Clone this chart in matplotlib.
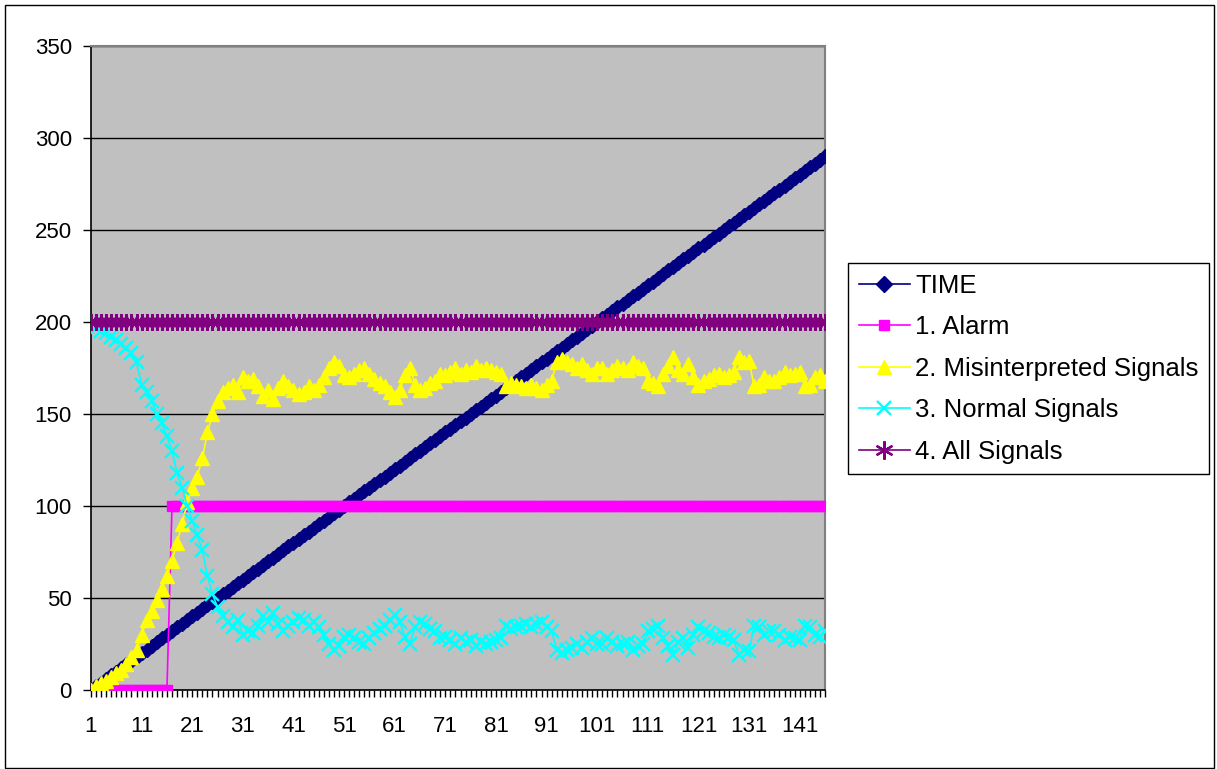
import matplotlib
matplotlib.use("Agg")
import matplotlib.pyplot as plt
from matplotlib.patches import Rectangle
from matplotlib.ticker import FixedLocator, NullFormatter

plt.rcParams['font.family'] = ['Liberation Sans', 'DejaVu Sans']

# ---------------- data ----------------
x_index = list(range(1, 147))
tick_labels = ['1', '11', '21', '31', '41', '51', '61', '71', '81', '91',
               '101', '111', '121', '131', '141']

time_vals = [0, 2, 4, 6, 8, 10, 12, 14, 16, 18, 20, 22, 24, 26, 28, 30, 32, 34, 36, 38,
             40, 42, 44, 46, 48, 50, 52, 54, 56, 58, 60, 62, 64, 66, 68, 70, 72, 74, 76, 78,
             80, 82, 84, 86, 88, 90, 92, 94, 96, 98, 100, 102, 104, 106, 108, 110, 112, 114,
             116, 118, 120, 122, 124, 126, 128, 130, 132, 134, 136, 138, 140, 142, 144, 146,
             148, 150, 152, 154, 156, 158, 160, 162, 164, 166, 168, 170, 172, 174, 176, 178,
             180, 182, 184, 186, 188, 190, 192, 194, 196, 198, 200, 202, 204, 206, 208, 210,
             212, 214, 216, 218, 220, 222, 224, 226, 228, 230, 232, 234, 236, 238, 240, 242,
             244, 246, 248, 250, 252, 254, 256, 258, 260, 262, 264, 266, 268, 270, 272, 274,
             276, 278, 280, 282, 284, 286, 288, 290]

alarm = [0] * 16 + [100] * 130

misinterpreted = [
    0, 2, 4, 5, 7, 9, 11, 14, 18, 22,
    30, 38, 43, 49, 55, 62, 70, 80, 90, 102,
    110, 116, 126, 140, 150, 157, 162, 164,
    166, 162, 170, 168, 169, 165, 160, 163, 158, 164, 168, 165,
    163, 161, 162, 165, 163, 166, 170, 175, 178, 176,
    171, 170, 172, 174, 175, 172, 169, 167, 165, 162,
    159, 163, 171, 175, 166, 163, 164, 167, 168, 172,
    171, 173, 175, 172, 174, 173, 176, 174, 175, 174,
    173, 172, 165, 167, 166, 165, 164, 166, 164, 163,
    166, 168, 178, 180, 178, 177, 175, 177, 174, 172,
    175, 175, 172, 174, 176, 175, 174, 178, 176, 175,
    168, 167, 165, 172, 176, 181, 174, 172, 177, 170,
    166, 168, 169, 171, 172, 170, 171, 173, 181, 178,
    179, 165, 166, 170, 168, 168, 170, 173, 171, 172,
    173, 165, 166, 170, 171, 168]

normal = [
    200, 197, 195, 194, 192, 190, 188, 186, 183, 178,
    166, 162, 157, 150, 145, 138, 130, 118, 110, 100,
    92, 84, 76, 62, 52, 45, 40, 37,
    34, 38, 30, 32, 31, 35, 40, 37, 42, 36, 32, 35,
    37, 39, 38, 35, 37, 34, 30, 25, 22, 24,
    29, 30, 28, 26, 25, 28, 31, 33, 35, 38,
    41, 37, 29, 25, 34, 37, 36, 33, 32, 28,
    29, 27, 25, 28, 26, 27, 24, 26, 25, 26,
    27, 28, 35, 33, 34, 35, 36, 34, 36, 37,
    34, 32, 22, 20, 22, 23, 25, 23, 26, 28,
    25, 25, 28, 26, 24, 25, 26, 22, 24, 25,
    32, 33, 35, 28, 24, 19, 26, 28, 23, 30,
    34, 32, 31, 29, 28, 30, 29, 27, 19, 22,
    21, 35, 34, 30, 32, 32, 30, 27, 29, 28,
    27, 35, 34, 30, 29, 32]

all_signals = [200] * 146

y_ticks = [0, 50, 100, 150, 200, 250, 300, 350]

# ---------------- figure ----------------
W, H = 1217, 769
fig = plt.figure(figsize=(W / 100, H / 100), dpi=100)
fig.patch.set_facecolor('white')

L, R, T, B = 91, 825, 46, 690
ax = fig.add_axes([L / W, 1 - B / H, (R - L) / W, (B - T) / H])
ax.set_facecolor('#C0C0C0')

ax.plot(x_index, time_vals, color='#000080', lw=1.2, marker='D', ms=7,
        mec='#000080', mfc='#000080', label='TIME', zorder=3)
ax.plot(x_index, alarm, color='#FF00FF', lw=1.2, marker='s', ms=7,
        mec='#FF00FF', mfc='#FF00FF', label='1. Alarm', zorder=4)
ax.plot(x_index, misinterpreted, color='#FFFF00', lw=1.2, marker='^', ms=9.5,
        mec='#FFFF00', mfc='#FFFF00', label='2. Misinterpreted Signals', zorder=5)
ax.plot(x_index, normal, color='#00FFFF', lw=1.2, marker='x', ms=9.5, mew=1.7,
        mec='#00FFFF', label='3. Normal Signals', zorder=6)
ax.plot(x_index, all_signals, color='#800080', lw=1.2, marker=(6, 2, 0), ms=12, mew=1.6,
        mec='#800080', label='4. All Signals', zorder=7)

ax.set_xlim(1, 146)
ax.set_ylim(0, 350)
ax.set_yticks(y_ticks)
ax.set_yticklabels([str(v) for v in y_ticks], fontsize=16)
ax.yaxis.grid(True, color='#000000', lw=1.0)
ax.set_axisbelow(True)

major = [int(t) for t in tick_labels]
ax.xaxis.set_major_locator(FixedLocator(major))
ax.set_xticklabels(tick_labels, fontsize=16)
ax.xaxis.set_minor_locator(FixedLocator(x_index))
ax.xaxis.set_minor_formatter(NullFormatter())
ax.tick_params(axis='x', which='both', direction='out', length=5, width=1,
               color='#000000', pad=14)
ax.tick_params(axis='y', which='major', direction='out', length=5.8, width=1,
               color='#000000', pad=8)

for s in ['top', 'right']:
    ax.spines[s].set_color('#808080')
    ax.spines[s].set_linewidth(1.5)
for s in ['left', 'bottom']:
    ax.spines[s].set_color('#000000')
    ax.spines[s].set_linewidth(1.2)

leg = fig.legend(loc='upper left', bbox_to_anchor=(848 / W, 1 - 263 / H),
                 bbox_transform=fig.transFigure, fontsize=18.5, frameon=True,
                 fancybox=False, edgecolor='#000000', framealpha=1,
                 handlelength=2.0, handletextpad=0.2, labelspacing=0.68,
                 borderpad=0.42, borderaxespad=0, markerscale=1.1)
leg.get_frame().set_linewidth(1.0)

# chart-area border
fig.patches.append(Rectangle((5 / W, 1 / H), (1214 - 5) / W, (764 - 1) / H,
                             transform=fig.transFigure, fill=False,
                             edgecolor='#000000', lw=1.0))

fig.savefig('out.png', dpi=100, facecolor='white')
